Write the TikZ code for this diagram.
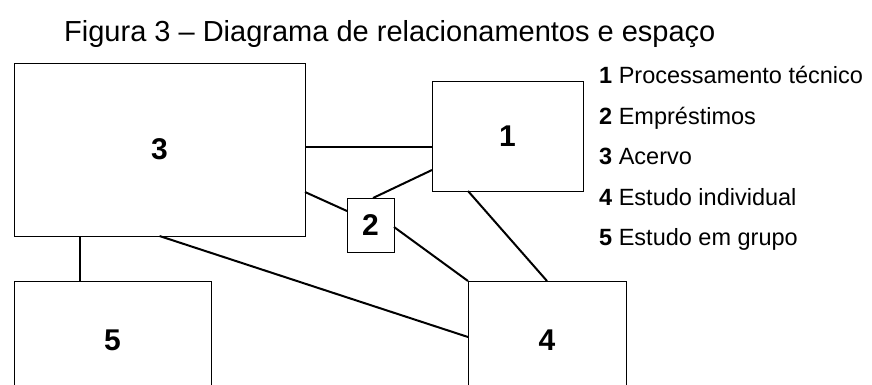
\documentclass[tikz,border=0pt]{standalone}
\usepackage{fontspec}
\setmainfont{Liberation Sans}
\begin{document}
\begin{tikzpicture}[x=1pt,y=-1pt,
  box/.style={draw=black, line width=1pt, inner sep=0pt, outer sep=0pt,
    font=\fontsize{30}{32}\selectfont\bfseries},
  link/.style={line width=2pt},
  legend/.style={anchor=base west, inner sep=0pt, font=\fontsize{23.5}{26}\selectfont}]
\clip (0,0) rectangle (872,384);
\fill[white] (0,0) rectangle (872,384);
\node[anchor=base west, inner sep=0pt, font=\fontsize{29}{32}\selectfont] (title) at (64,41)
  {Figura 3 – Diagrama de relacionamentos e espaço};
\node[box, minimum width=291pt, minimum height=173pt] (b3) at (159.5,149.5) {3};
\node[box, minimum width=151pt, minimum height=110pt] (b1) at (507.5,136) {1};
\node[box, minimum width=47pt, minimum height=54pt] (b2) at (370.5,225) {2};
\node[box, minimum width=197pt, minimum height=118pt] (b5) at (112.5,340) {5};
\node[box, minimum width=158pt, minimum height=118pt] (b4) at (547,340) {4};
\draw[link] ([yshift=2.5pt]b3.east) -- ([yshift=-11pt]b1.west);
\draw[link] ([yshift=-34pt]b1.west) -- ([xshift=2.5pt]b2.north);
\draw[link] ([yshift=-42.5pt]b3.east) -- ([yshift=14pt]b2.west);
\draw[link] ([yshift=-2pt]b2.east) -- (b4.north west);
\draw[link] ([xshift=-39.5pt]b1.south) -- (b4.north);
\draw[link] (b3.south) -- ([yshift=3pt]b4.west);
\draw[link] ([xshift=-79.5pt]b3.south) -- ([xshift=-32.5pt]b5.north);
\node[legend] (l1) at (599,83) {\textbf{1} Processamento técnico};
\node[legend] (l2) at (599,124) {\textbf{2} Empréstimos};
\node[legend] (l3) at (599,164) {\textbf{3} Acervo};
\node[legend] (l4) at (599,205) {\textbf{4} Estudo individual};
\node[legend] (l5) at (599,245) {\textbf{5} Estudo em grupo};
\end{tikzpicture}
\end{document}
